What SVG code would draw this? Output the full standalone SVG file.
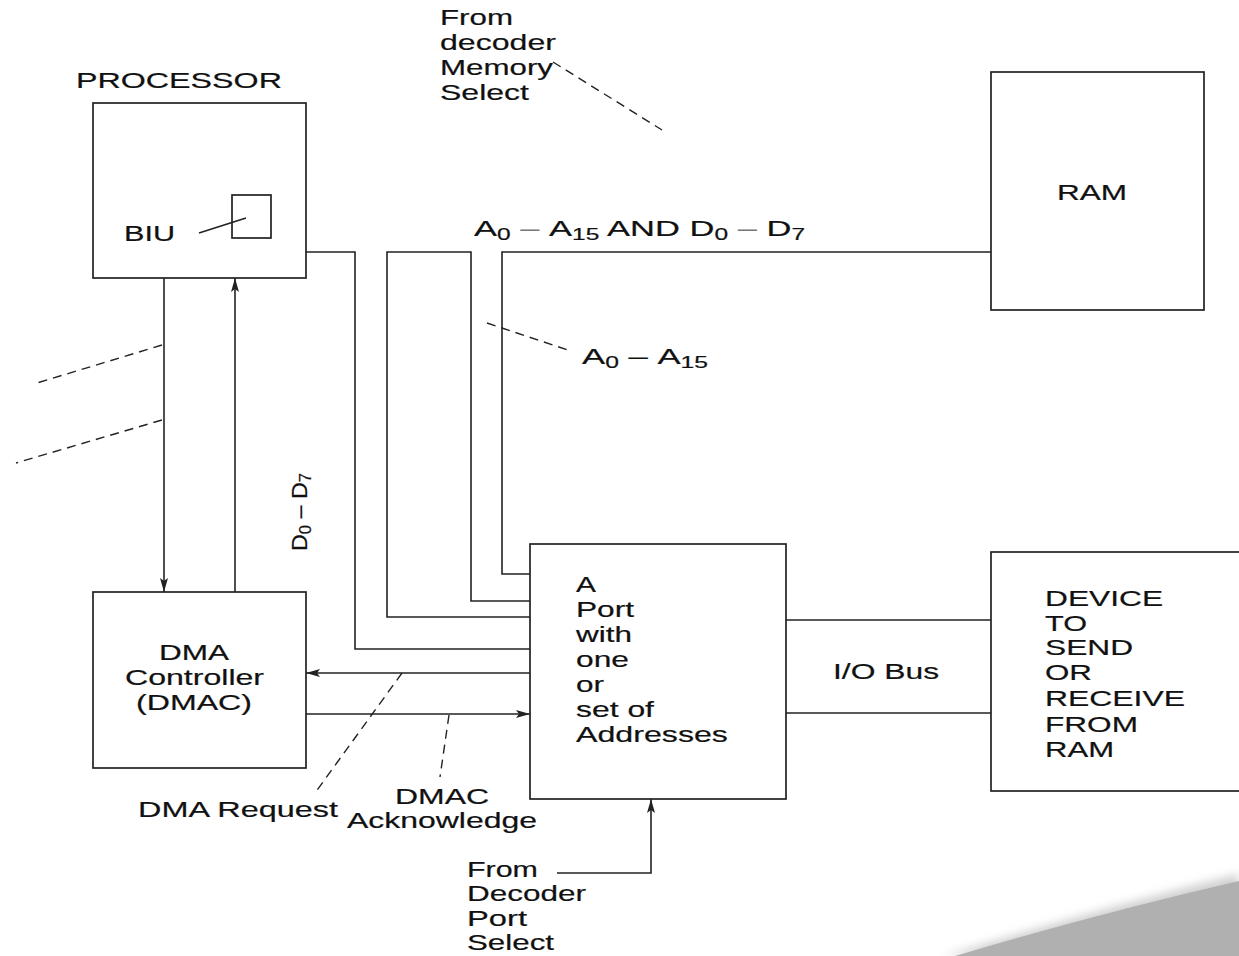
<svg xmlns="http://www.w3.org/2000/svg" width="1239" height="956" viewBox="0 0 1239 956">
<style>
.box{fill:none;stroke:#222;stroke-width:1.7}
.ln{fill:none;stroke:#222;stroke-width:1.6}
.dash{fill:none;stroke:#222;stroke-width:1.4;stroke-dasharray:9 6}
text{font-family:"Liberation Sans",Arial,sans-serif;font-size:22.5px;fill:#111;stroke:#111;stroke-width:0.2}
.sub{font-size:16px}
.dsh{fill:#777;stroke:none}
</style>
<defs>
<marker id="arr" viewBox="0 0 14 8" refX="14" refY="4" markerWidth="14" markerHeight="8" markerUnits="userSpaceOnUse" orient="auto">
<path d="M0,0 L14,4 L0,8 L3,4 Z" fill="#222"/>
</marker>
<filter id="blur" x="-20%" y="-50%" width="140%" height="200%"><feGaussianBlur stdDeviation="5"/></filter>
</defs>
<rect width="1239" height="956" fill="#fff"/>

<g id="swoosh">
<path d="M945,956 Q1095,910 1239,874 L1239,956 Z" fill="#cfcfcf" filter="url(#blur)"/>
<path d="M955,956 Q1100,913 1239,881 L1239,956 Z" fill="#b0b0b0"/>
</g>

<g id="connectors">
<path class="ln" d="M306,252 H355 V649 H530"/>
<path class="ln" d="M530,617 H387 V252 H471 V601 H530"/>
<path class="ln" d="M530,574 H502 V252 H991"/>
<path class="ln" d="M530,673 H306" marker-end="url(#arr)"/>
<path class="ln" d="M306,714 H530" marker-end="url(#arr)"/>
<path class="ln" d="M164,278 V592" marker-end="url(#arr)"/>
<path class="ln" d="M235,592 V278" marker-end="url(#arr)"/>
<path class="ln" d="M557,873 H651 V799" marker-end="url(#arr)"/>
<path class="ln" d="M786,620 H991"/>
<path class="ln" d="M786,713 H991"/>
<path class="ln" d="M199,233 L246,218"/>
<path class="dash" d="M553,62 L662,130"/>
<path class="dash" d="M487,323 L568,350"/>
<path class="dash" d="M162,345 L37,383"/>
<path class="dash" d="M162,420 L16,463"/>
<path class="dash" d="M402,673 L315,793"/>
<path class="dash" d="M449,715 L440,777"/>
</g>

<g id="memory-select-label">
<text transform="translate(440,25) scale(1.5,1)" textLength="48.7" lengthAdjust="spacingAndGlyphs">From</text>
<text transform="translate(440,50) scale(1.5,1)" textLength="77.3" lengthAdjust="spacingAndGlyphs">decoder</text>
<text transform="translate(440,75) scale(1.5,1)" textLength="75.3" lengthAdjust="spacingAndGlyphs">Memory</text>
<text transform="translate(440,100) scale(1.5,1)" textLength="59.3" lengthAdjust="spacingAndGlyphs">Select</text>
</g>

<g id="processor">
<text transform="translate(76,88) scale(1.5,1)" textLength="137.3" lengthAdjust="spacingAndGlyphs">PROCESSOR</text>
<rect class="box" x="93" y="103" width="213" height="175"/>
<rect class="box" x="232" y="195" width="39" height="43"/>
<text transform="translate(124,241) scale(1.5,1)" textLength="34" lengthAdjust="spacingAndGlyphs">BIU</text>
</g>

<g id="ram">
<rect class="box" x="991" y="72" width="213" height="238"/>
<text transform="translate(1057,200) scale(1.5,1)" textLength="46.7" lengthAdjust="spacingAndGlyphs">RAM</text>
</g>

<g id="bus-label">
<text transform="translate(474,236) scale(1.5,1)" textLength="220.7" lengthAdjust="spacingAndGlyphs">A<tspan class="sub" dy="4">0</tspan><tspan dy="-4" class="dsh"> – </tspan>A<tspan class="sub" dy="4">15</tspan><tspan dy="-4"> AND D</tspan><tspan class="sub" dy="4">0</tspan><tspan dy="-4" class="dsh"> – </tspan>D<tspan class="sub" dy="4">7</tspan></text>
</g>

<g id="addr-label">
<text transform="translate(582,364) scale(1.5,1)" textLength="84" lengthAdjust="spacingAndGlyphs">A<tspan class="sub" dy="4">0</tspan><tspan dy="-4"> – </tspan>A<tspan class="sub" dy="4">15</tspan></text>
</g>

<g id="data-label">
<text transform="translate(307,551) rotate(-90) scale(1.5,1)" textLength="52" lengthAdjust="spacingAndGlyphs">D<tspan class="sub" dy="4">0</tspan><tspan dy="-4"> – </tspan>D<tspan class="sub" dy="4">7</tspan></text>
</g>

<g id="dmac">
<rect class="box" x="93" y="592" width="213" height="176"/>
<text transform="translate(159,660) scale(1.5,1)" textLength="46.7" lengthAdjust="spacingAndGlyphs">DMA</text>
<text transform="translate(125,685) scale(1.5,1)" textLength="92.7" lengthAdjust="spacingAndGlyphs">Controller</text>
<text transform="translate(136,710) scale(1.5,1)" textLength="77.3" lengthAdjust="spacingAndGlyphs">(DMAC)</text>
</g>

<g id="port">
<rect class="box" x="530" y="544" width="256" height="255"/>
<text transform="translate(576,592) scale(1.5,1)" textLength="13.3" lengthAdjust="spacingAndGlyphs">A</text>
<text transform="translate(576,617) scale(1.5,1)" textLength="38.7" lengthAdjust="spacingAndGlyphs">Port</text>
<text transform="translate(576,642) scale(1.5,1)" textLength="37.3" lengthAdjust="spacingAndGlyphs">with</text>
<text transform="translate(576,667) scale(1.5,1)" textLength="35.3" lengthAdjust="spacingAndGlyphs">one</text>
<text transform="translate(576,692) scale(1.5,1)" textLength="18.7" lengthAdjust="spacingAndGlyphs">or</text>
<text transform="translate(576,717) scale(1.5,1)" textLength="52" lengthAdjust="spacingAndGlyphs">set of</text>
<text transform="translate(576,742) scale(1.5,1)" textLength="101.3" lengthAdjust="spacingAndGlyphs">Addresses</text>
</g>

<g id="io-bus-label">
<text transform="translate(833,679) scale(1.5,1)" textLength="70.7" lengthAdjust="spacingAndGlyphs">I/O Bus</text>
</g>

<g id="device">
<rect class="box" x="991" y="552" width="260" height="239"/>
<text transform="translate(1045,606) scale(1.5,1)" textLength="78.7" lengthAdjust="spacingAndGlyphs">DEVICE</text>
<text transform="translate(1045,631) scale(1.5,1)" textLength="28" lengthAdjust="spacingAndGlyphs">TO</text>
<text transform="translate(1045,655) scale(1.5,1)" textLength="58.7" lengthAdjust="spacingAndGlyphs">SEND</text>
<text transform="translate(1045,680) scale(1.5,1)" textLength="31.3" lengthAdjust="spacingAndGlyphs">OR</text>
<text transform="translate(1045,706) scale(1.5,1)" textLength="93.3" lengthAdjust="spacingAndGlyphs">RECEIVE</text>
<text transform="translate(1045,732) scale(1.5,1)" textLength="62" lengthAdjust="spacingAndGlyphs">FROM</text>
<text transform="translate(1045,757) scale(1.5,1)" textLength="46" lengthAdjust="spacingAndGlyphs">RAM</text>
</g>

<g id="dma-request-label">
<text transform="translate(138,817) scale(1.5,1)" textLength="133.3" lengthAdjust="spacingAndGlyphs">DMA Request</text>
</g>

<g id="dmac-ack-label">
<text transform="translate(395,804) scale(1.5,1)" textLength="62.7" lengthAdjust="spacingAndGlyphs">DMAC</text>
<text transform="translate(347,828) scale(1.5,1)" textLength="126.7" lengthAdjust="spacingAndGlyphs">Acknowledge</text>
</g>

<g id="port-select-label">
<text transform="translate(467,877) scale(1.5,1)" textLength="47.3" lengthAdjust="spacingAndGlyphs">From</text>
<text transform="translate(467,901) scale(1.5,1)" textLength="79.3" lengthAdjust="spacingAndGlyphs">Decoder</text>
<text transform="translate(467,926) scale(1.5,1)" textLength="40" lengthAdjust="spacingAndGlyphs">Port</text>
<text transform="translate(467,950) scale(1.5,1)" textLength="58" lengthAdjust="spacingAndGlyphs">Select</text>
</g>
</svg>
